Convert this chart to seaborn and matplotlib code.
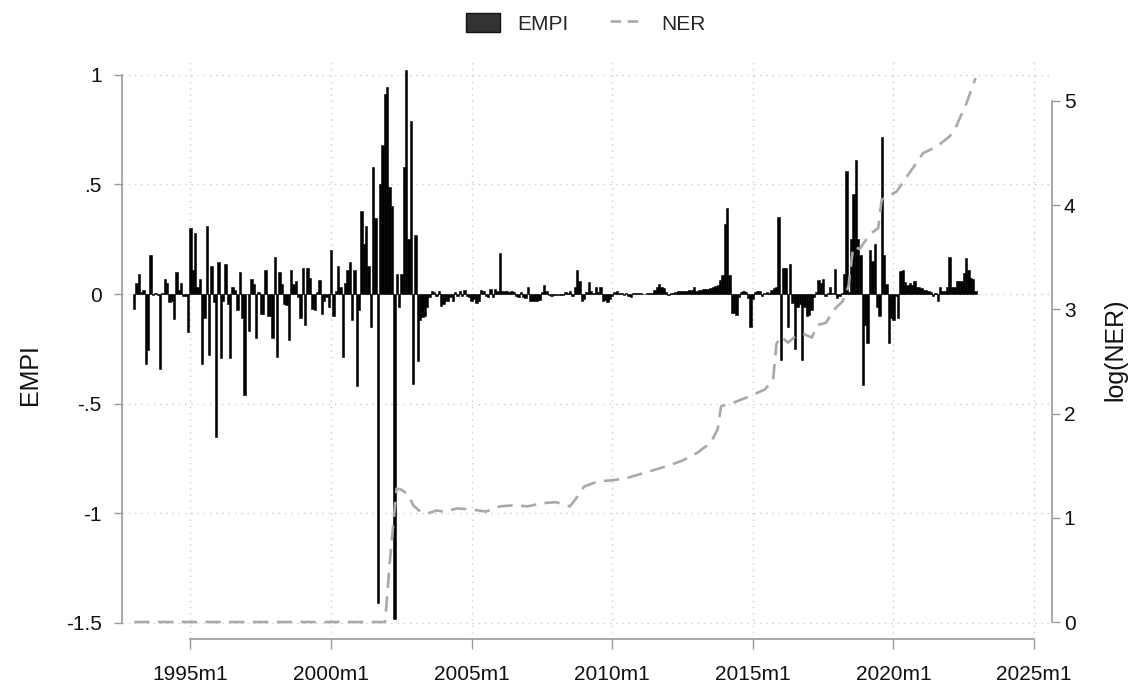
import numpy as np
import matplotlib
matplotlib.use("Agg")
import matplotlib.pyplot as plt
import seaborn as sns
from matplotlib.patches import Patch
from matplotlib.lines import Line2D

sns.set_theme(style="white")
plt.rcParams["font.family"] = ["Liberation Sans", "DejaVu Sans"]

# ---------------- data (monthly EMPI, 1993m1 - 2022m12) ----------------
empi_1993 = [-0.07, 0.05, 0.09, 0.01, 0.02, -0.32, -0.255, 0.18, -0.005, 0.005, -0.005, -0.34]
empi_1994 = [0.005, 0.07, 0.05, -0.035, -0.03, -0.115, 0.10, 0.02, 0.05, -0.01, -0.01, -0.175]
empi_1995 = [0.30, 0.11, 0.28, 0.03, 0.07, -0.32, -0.11, 0.31, -0.28, 0.13, -0.035, -0.65]
empi_1996 = [0.145, -0.29, -0.03, 0.135, -0.045, -0.29, 0.03, 0.02, -0.075, 0.10, -0.11, -0.46]
empi_1997 = [0.0, -0.17, 0.07, 0.045, -0.20, 0.01, -0.09, -0.09, 0.11, -0.10, -0.10, -0.20]
empi_1998 = [0.17, -0.285, 0.10, 0.045, -0.045, -0.05, -0.21, 0.11, 0.045, 0.06, -0.015, -0.11]
empi_1999 = [0.12, -0.14, 0.12, 0.075, -0.07, -0.075, 0.01, 0.065, -0.09, -0.03, -0.015, -0.06]
empi_2000 = [0.20, -0.10, 0.015, 0.13, 0.03, -0.285, 0.05, 0.11, 0.145, -0.12, 0.11, -0.42]
empi_2001 = [-0.075, 0.38, 0.23, 0.31, 0.13, -0.15, 0.58, 0.345, -1.41, 0.50, 0.68, 0.91]
empi_2002 = [0.945, 0.49, 0.40, -1.48, 0.09, -0.06, 0.09, 0.58, 1.02, 0.25, 0.79, -0.41]
empi_2003 = [0.27, -0.305, -0.12, -0.105, -0.10, -0.06, -0.015, 0.015, 0.01, -0.008, 0.012, -0.053]
empi_2004 = [-0.045, -0.03, -0.033, -0.012, -0.03, 0.008, -0.008, 0.015, -0.008, 0.018, -0.01, -0.015]
empi_2005 = [-0.03, -0.023, -0.04, -0.03, 0.018, 0.012, -0.008, -0.012, 0.023, -0.015, 0.023, 0.015]
empi_2006 = [0.185, 0.015, 0.012, 0.012, 0.01, 0.012, 0.008, -0.008, -0.012, 0.008, -0.012, -0.018]
empi_2007 = [0.03, -0.03, -0.03, -0.03, -0.03, -0.028, 0.008, 0.04, 0.015, -0.005, -0.008, -0.006]
empi_2008 = [-0.005, -0.003, -0.006, -0.003, 0.008, 0.003, 0.012, -0.008, 0.033, 0.11, 0.06, -0.03]
empi_2009 = [-0.025, 0.008, 0.053, 0.015, 0.003, 0.03, 0.008, 0.03, -0.03, -0.028, -0.038, -0.025]
empi_2010 = [-0.008, 0.008, 0.012, 0.003, 0.004, -0.005, 0.005, -0.008, -0.012, 0.003, 0.005, 0.003]
empi_2011 = [0.003, 0.002, -0.002, 0.003, 0.004, 0.003, 0.018, 0.033, 0.045, 0.03, 0.028, 0.008]
empi_2012 = [-0.005, 0.003, 0.004, 0.008, 0.015, 0.012, 0.015, 0.012, 0.015, 0.018, 0.018, 0.03]
empi_2013 = [0.015, 0.018, 0.018, 0.023, 0.023, 0.023, 0.027, 0.033, 0.038, 0.042, 0.064, 0.088]
empi_2014 = [0.32, 0.39, 0.088, -0.085, -0.088, -0.095, -0.015, 0.008, 0.015, 0.008, -0.018, -0.15]
empi_2015 = [-0.023, 0.008, 0.012, 0.012, -0.008, 0.006, 0.008, 0.006, 0.018, 0.027, 0.033, 0.35]
empi_2016 = [-0.30, 0.12, 0.12, -0.15, 0.135, -0.04, -0.25, -0.058, -0.045, -0.30, -0.057, -0.10]
empi_2017 = [-0.095, -0.075, -0.015, 0.008, 0.066, 0.05, 0.07, -0.01, 0.003, 0.033, 0.006, 0.116]
empi_2018 = [-0.02, -0.01, 0.003, 0.09, 0.56, 0.01, 0.25, 0.455, 0.61, 0.25, 0.18, -0.415]
empi_2019 = [-0.14, -0.225, 0.20, 0.15, 0.23, -0.06, -0.10, 0.715, 0.18, 0.045, -0.225, -0.11]
empi_2020 = [-0.12, -0.01, -0.11, 0.105, 0.11, 0.057, 0.04, 0.05, 0.04, 0.06, 0.033, 0.03]
empi_2021 = [0.027, 0.02, 0.018, 0.015, 0.008, -0.009, 0.005, -0.03, 0.03, 0.015, 0.012, 0.03]
empi_2022 = [0.17, 0.03, 0.03, 0.06, 0.06, 0.06, 0.096, 0.165, 0.11, 0.075, 0.07, 0.015]

empi = (empi_1993 + empi_1994 + empi_1995 + empi_1996 + empi_1997 + empi_1998 +
        empi_1999 + empi_2000 + empi_2001 + empi_2002 + empi_2003 + empi_2004 +
        empi_2005 + empi_2006 + empi_2007 + empi_2008 + empi_2009 + empi_2010 +
        empi_2011 + empi_2012 + empi_2013 + empi_2014 + empi_2015 + empi_2016 +
        empi_2017 + empi_2018 + empi_2019 + empi_2020 + empi_2021 + empi_2022)
start_year = 1993
empi_dates = start_year + np.arange(len(empi)) / 12.0

# log(NER) read at points along the line (decimal years)
ner_dates = [1993.0, 2001.92, 2002.08, 2002.25, 2002.33, 2002.5, 2002.75, 2002.92,
             2003.17, 2003.42, 2003.75, 2004.0, 2004.5, 2005.0, 2005.5, 2006.0,
             2006.5, 2007.0, 2007.5, 2008.0, 2008.5, 2008.75, 2009.0, 2009.5,
             2010.0, 2010.5, 2011.0, 2011.5, 2012.0, 2012.5, 2013.0, 2013.5,
             2013.75, 2013.87, 2014.35, 2014.83, 2015.42, 2015.72, 2015.84, 2016.0,
             2016.25, 2016.5, 2016.84, 2017.1, 2017.3, 2017.6, 2017.9, 2018.2,
             2018.4, 2018.57, 2018.8, 2019.16, 2019.46, 2019.58, 2019.76, 2020.11,
             2020.47, 2021.06, 2021.53, 2022.0, 2022.24, 2022.6, 2022.92]
ner_values = [0.0, 0.0, 0.55, 1.05, 1.28, 1.27, 1.22, 1.12,
              1.06, 1.04, 1.07, 1.06, 1.09, 1.08, 1.06, 1.11,
              1.12, 1.11, 1.14, 1.15, 1.11, 1.20, 1.30, 1.35,
              1.36, 1.38, 1.42, 1.46, 1.50, 1.55, 1.62, 1.72,
              1.85, 2.07, 2.11, 2.16, 2.23, 2.32, 2.67, 2.74,
              2.68, 2.74, 2.76, 2.73, 2.85, 2.87, 3.00, 3.08,
              3.22, 3.60, 3.58, 3.72, 3.78, 4.05, 4.08, 4.13,
              4.27, 4.50, 4.56, 4.66, 4.76, 4.98, 5.22]

x_ticks = [1995, 2000, 2005, 2010, 2015, 2020, 2025]
x_labels = ["1995m1", "2000m1", "2005m1", "2010m1", "2015m1", "2020m1", "2025m1"]
y1_ticks = [-1.5, -1.0, -0.5, 0.0, 0.5, 1.0]
y1_labels = ["-1.5", "-1", "-.5", "0", ".5", "1"]
y2_ticks = [0, 1, 2, 3, 4, 5]
y2_labels = ["0", "1", "2", "3", "4", "5"]

# ---------------- figure ----------------
W, H = 1139, 686
fig = plt.figure(figsize=(W / 100, H / 100), dpi=100)
fig.patch.set_facecolor("white")
ax_l, ax_r, ax_t, ax_b = 122, 1052, 60, 639
ax = fig.add_axes([ax_l / W, 1 - ax_b / H, (ax_r - ax_l) / W, (ax_b - ax_t) / H])
ax.set_facecolor("white")

axis_col = "#9a9a9a"
grid_col = "#cccccc"
ner_col = "#a9a9a9"

ax.bar(empi_dates, empi, width=1 / 12, color="black", edgecolor="black",
       linewidth=0.4, align="center", zorder=2)

ax.set_xlim(1992.564, 2025.64)
ax.set_ylim(-1.573, 1.067)
ax.set_axisbelow(True)

ax2 = ax.twinx()
sns.lineplot(x=ner_dates, y=ner_values, ax=ax2, color=ner_col, linewidth=1.9,
             sort=False, zorder=3)
ax2.lines[0].set_dashes([5.8, 3.2])
ax2.set_ylim(-0.163, 5.393)
ax2.set_xlim(1992.564, 2025.64)

# ticks
ax.set_xticks(x_ticks)
ax.set_xticklabels(x_labels)
ax.set_yticks(y1_ticks)
ax.set_yticklabels(y1_labels)
ax2.set_yticks(y2_ticks)
ax2.set_yticklabels(y2_labels)

ax.tick_params(axis="x", direction="out", length=7.5, width=1, color=axis_col,
               pad=11, labelsize=15, labelcolor="#111111", bottom=True)
ax.tick_params(axis="y", direction="out", length=5.5, width=1, color=axis_col,
               pad=9, labelsize=15, labelcolor="#111111", left=True)
ax2.tick_params(axis="y", direction="out", length=5.5, width=1, color=axis_col,
                pad=3, labelsize=15, labelcolor="#111111", right=True)

# grid
ax.grid(True, axis="both", linestyle=(0, (1, 3.5)), color=grid_col, linewidth=1.0)
ax2.grid(False)

# spines
for s in ["top", "right"]:
    ax.spines[s].set_visible(False)
for s in ["top", "left", "bottom"]:
    ax2.spines[s].set_visible(False)
ax.spines["left"].set_bounds(-1.5, 1.0)
ax.spines["bottom"].set_bounds(1995, 2025)
ax2.spines["right"].set_bounds(0, 5)
for sp in [ax.spines["left"], ax.spines["bottom"], ax2.spines["right"]]:
    sp.set_color(axis_col)
    sp.set_linewidth(1.2)

# axis labels
ax.set_ylabel("EMPI", fontsize=18, color="#111111")
ax.yaxis.set_label_coords(-0.086, 0.456)
ax2.set_ylabel("log(NER)", fontsize=18, color="#111111")
ax2.yaxis.set_label_coords(1.055, 0.5)
ax.set_xlabel("")

# legend
handles = [Patch(facecolor="#333333", edgecolor="#111111", linewidth=1.0),
           Line2D([0], [0], color=ner_col, linewidth=1.9, dashes=[4, 2.5])]
fig.legend(handles, ["EMPI", "NER"], loc="center", bbox_to_anchor=(0.5145, 0.966),
           ncol=2, frameon=False, fontsize=15, handlelength=1.6, handleheight=1.0,
           columnspacing=2.0, handletextpad=0.85)

fig.savefig("out.png", dpi=100, facecolor="white")
